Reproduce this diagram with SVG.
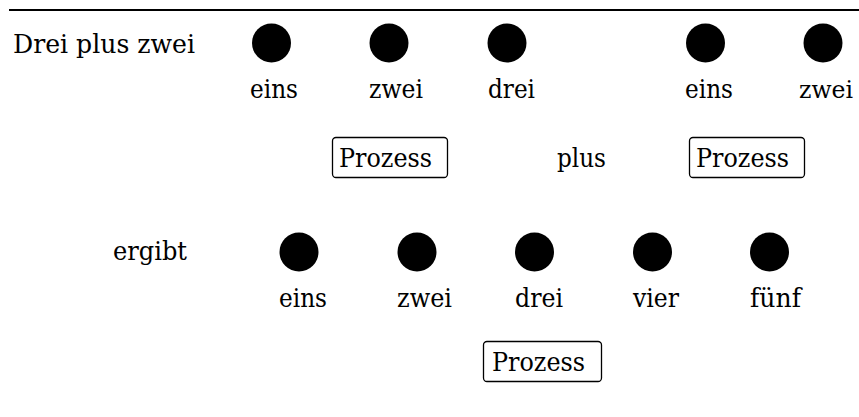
<svg xmlns="http://www.w3.org/2000/svg" width="859" height="417" viewBox="0 0 859 417">
<style>
.dot{fill:#000}
.box{fill:none;stroke:#000;stroke-width:1.3}
</style>
<rect width="859" height="417" fill="#fff"/>
<line x1="9" y1="10" x2="859" y2="10" stroke="#000" stroke-width="2"/>
<g font-family="'DejaVu Serif', 'Liberation Serif', serif" font-size="26.5" fill="#000">
<g id="title"><text x="13" y="53" textLength="182" lengthAdjust="spacingAndGlyphs">Drei plus zwei</text></g>
<g id="a1"><circle class="dot" cx="271.5" cy="43" r="19.5"/><text x="250" y="98" textLength="48" lengthAdjust="spacingAndGlyphs">eins</text></g>
<g id="a2"><circle class="dot" cx="389" cy="43" r="19.5"/><text x="369" y="98" textLength="54" lengthAdjust="spacingAndGlyphs">zwei</text></g>
<g id="a3"><circle class="dot" cx="507" cy="43" r="19.5"/><text x="488" y="98" textLength="47" lengthAdjust="spacingAndGlyphs">drei</text></g>
<g id="b1"><circle class="dot" cx="705.5" cy="43" r="19.5"/><text x="685" y="98" textLength="48" lengthAdjust="spacingAndGlyphs">eins</text></g>
<g id="b2"><circle class="dot" cx="823" cy="43" r="19.5"/><text x="799" y="98" font-size="24" textLength="54" lengthAdjust="spacingAndGlyphs">zwei</text></g>
<g id="p1"><rect class="box" x="332.5" y="137.5" width="115" height="40" rx="3.5"/><text x="339" y="167" textLength="93" lengthAdjust="spacingAndGlyphs">Prozess</text></g>
<g id="plus"><text x="557" y="167" textLength="49" lengthAdjust="spacingAndGlyphs">plus</text></g>
<g id="p2"><rect class="box" x="689.5" y="137.5" width="115" height="40" rx="3.5"/><text x="696" y="167" textLength="93" lengthAdjust="spacingAndGlyphs">Prozess</text></g>
<g id="ergibt"><text x="113" y="260" textLength="74" lengthAdjust="spacingAndGlyphs">ergibt</text></g>
<g id="c1"><circle class="dot" cx="299" cy="252" r="19.5"/><text x="279" y="307" textLength="48" lengthAdjust="spacingAndGlyphs">eins</text></g>
<g id="c2"><circle class="dot" cx="417" cy="252" r="19.5"/><text x="397" y="307" textLength="55" lengthAdjust="spacingAndGlyphs">zwei</text></g>
<g id="c3"><circle class="dot" cx="534.5" cy="252" r="19.5"/><text x="515" y="307" textLength="48" lengthAdjust="spacingAndGlyphs">drei</text></g>
<g id="c4"><circle class="dot" cx="652.5" cy="252" r="19.5"/><text x="633" y="307" textLength="46" lengthAdjust="spacingAndGlyphs">vier</text></g>
<g id="c5"><circle class="dot" cx="769.5" cy="252" r="19.5"/><text x="750" y="307" textLength="51" lengthAdjust="spacingAndGlyphs">fünf</text></g>
<g id="p3"><rect class="box" x="483.5" y="341.5" width="118" height="40" rx="3.5"/><text x="492" y="371" textLength="93" lengthAdjust="spacingAndGlyphs">Prozess</text></g>
</g>
<g id="connectors"></g>
</svg>
